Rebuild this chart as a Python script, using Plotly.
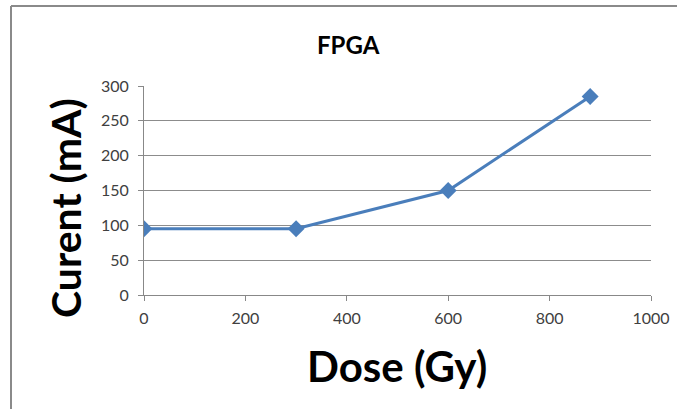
import plotly.graph_objects as go

dose = [0, 300, 600, 880]
current = [95, 95, 150, 285]
x_ticks = [0, 200, 400, 600, 800, 1000]
y_ticks = [0, 50, 100, 150, 200, 250, 300]

W, H = 677, 409
L, R, T, B = 144, 26, 86, 114
pw, ph = W - L - R, H - T - B

def px(xp):
    return (xp - L) / pw

def py(yp):
    return (H - B - yp) / ph

fig = go.Figure()
fig.add_trace(go.Scatter(
    x=dose, y=current, mode="lines+markers",
    line=dict(color="#4a7ebb", width=3),
    marker=dict(symbol="diamond", size=13, color="#4a7ebb"),
    showlegend=False,
))

font = "Lato, 'Open Sans', sans-serif"
fig.update_layout(
    width=W, height=H,
    margin=dict(l=L, r=R, t=T, b=B),
    paper_bgcolor="white", plot_bgcolor="white",
    font=dict(family=font, color="#404040", size=16),
    xaxis=dict(range=[0, 1000], tickvals=x_ticks, showgrid=False,
               showline=True, linecolor="#888888", linewidth=1,
               ticks="outside", ticklen=5, tickcolor="#888888",
               zeroline=False, automargin=False, ticklabelstandoff=4,
               tickfont=dict(size=16, color="#404040")),
    yaxis=dict(range=[0, 300], tickvals=y_ticks, showgrid=True,
               gridcolor="#8c8c8c", gridwidth=1,
               showline=True, linecolor="#888888", linewidth=1,
               ticks="outside", ticklen=5, tickcolor="#888888",
               zeroline=False, automargin=False, ticklabelstandoff=6,
               tickfont=dict(size=16, color="#404040")),
    shapes=[
        dict(type="line", xref="paper", yref="paper",
             x0=px(11), x1=px(11), y0=py(H + 5), y1=py(6),
             line=dict(color="#8a8a8a", width=2)),
        dict(type="line", xref="paper", yref="paper",
             x0=px(11), x1=px(W + 5), y0=py(6), y1=py(6),
             line=dict(color="#8a8a8a", width=2)),
    ],
    annotations=[
        dict(text="<b>FPGA</b>", xref="paper", yref="paper",
             x=px(348), y=py(45), xanchor="center", yanchor="middle",
             showarrow=False,
             font=dict(size=24, color="black", family=font)),
        dict(text="<b>Curent (mA)</b>", xref="paper", yref="paper",
             x=px(65), y=py(208), xanchor="center", yanchor="middle",
             showarrow=False, textangle=-90,
             font=dict(size=41, color="black", family=font)),
        dict(text="<b>Dose (Gy)</b>", xref="paper", yref="paper",
             x=px(397), y=py(366), xanchor="center", yanchor="middle",
             showarrow=False,
             font=dict(size=42, color="black", family=font)),
    ],
)

fig.write_html("out.html")
